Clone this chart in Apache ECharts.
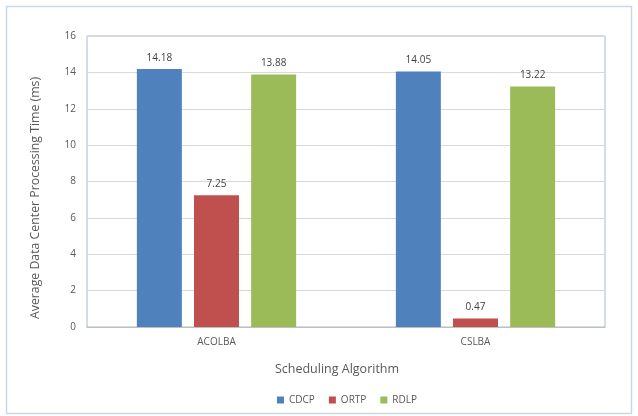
<!DOCTYPE html>
<html>
<head>
<meta charset="utf-8">
<script src="https://cdn.jsdelivr.net/npm/echarts@6/dist/echarts.min.js"></script>
<style>
  html, body { margin: 0; padding: 0; background: #ffffff; }
  #chart { width: 638px; height: 416px; }
</style>
</head>
<body>
<div id="chart"></div>
<script>
// Scheduling algorithms compared
const categories = ['ACOLBA', 'CSLBA'];
// Average data center processing time (ms) per policy
const cdcp = [14.18, 14.05];
const ortp = [7.25, 0.47];
const rdlp = [13.88, 13.22];
const yTicks = [0, 2, 4, 6, 8, 10, 12, 14, 16];
const xTitle = 'Scheduling Algorithm';
const yTitle = 'Average Data Center Processing Time (ms)';

const font = 'Open Sans, Liberation Sans, sans-serif';
const textColor = '#595959';

const labelCfg = {
  show: true,
  position: 'top',
  distance: 6,
  color: '#404040',
  fontSize: 10,
  fontFamily: font,
  formatter: p => p.value.toFixed(2)
};

const chart = echarts.init(document.getElementById('chart'));
chart.setOption({
  animation: false,
  backgroundColor: '#ffffff',
  graphic: [
    {
      type: 'rect',
      shape: { x: 6.5, y: 6.5, width: 625, height: 407 },
      style: { fill: 'none', stroke: '#c9d7e6', lineWidth: 1.5 },
      silent: true
    },
    {
      type: 'text',
      x: 35, y: 198,
      rotation: Math.PI / 2,
      style: {
        text: yTitle, fill: textColor, fontSize: 12.3, fontFamily: font,
        align: 'center', verticalAlign: 'middle'
      },
      silent: true
    },
    {
      type: 'text',
      x: 337, y: 369,
      style: {
        text: xTitle, fill: textColor, fontSize: 12.5, fontFamily: font,
        align: 'center', verticalAlign: 'middle'
      },
      silent: true
    }
  ],
  grid: {
    left: 87, right: 33, top: 36, bottom: 89,
    show: true, borderColor: '#a9b8c9', borderWidth: 1
  },
  legend: {
    bottom: 6,
    left: 272,
    itemWidth: 7, itemHeight: 7, itemGap: 14,
    icon: 'rect',
    textStyle: { color: textColor, fontSize: 10, fontFamily: font },
    data: ['CDCP', 'ORTP', 'RDLP']
  },
  xAxis: {
    type: 'category',
    data: categories,
    axisLine: { lineStyle: { color: '#bfbfbf' } },
    axisTick: { show: false },
    axisLabel: { color: textColor, fontSize: 10, fontFamily: font, margin: 10 }
  },
  yAxis: {
    type: 'value',
    min: yTicks[0], max: yTicks[yTicks.length - 1], interval: 2,
    axisLine: { show: false },
    axisTick: { show: false },
    axisLabel: { color: textColor, fontSize: 10, fontFamily: font, margin: 11 },
    splitLine: { lineStyle: { color: '#d9d9d9' } }
  },
  series: [
    { name: 'CDCP', type: 'bar', data: cdcp, itemStyle: { color: '#4f81bd' },
      barWidth: 45, barGap: '27%', label: labelCfg },
    { name: 'ORTP', type: 'bar', data: ortp, itemStyle: { color: '#c0504d' },
      barWidth: 45, barGap: '27%', label: labelCfg },
    { name: 'RDLP', type: 'bar', data: rdlp, itemStyle: { color: '#9bbb59' },
      barWidth: 45, barGap: '27%', label: labelCfg }
  ]
});
</script>
</body>
</html>
